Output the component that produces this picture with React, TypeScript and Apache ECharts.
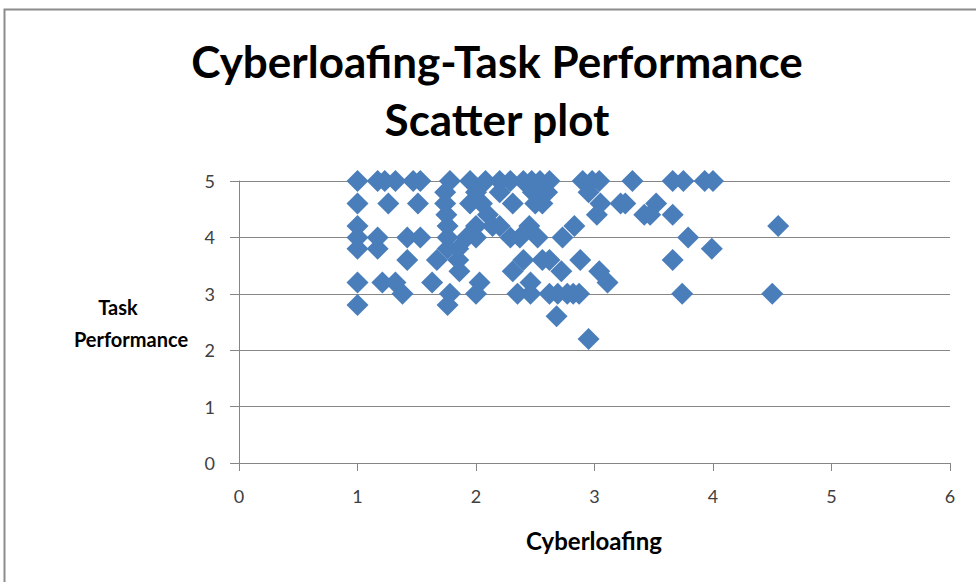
import React, { useEffect, useRef } from "react";
import * as echarts from "echarts";

const titleLines = ["Cyberloafing-Task Performance", "Scatter plot"];
const xAxisTitle = "Cyberloafing";
const yAxisTitle = ["Task", "Performance"];

// Cyberloafing (x) values grouped by Task Performance (y) rows
const y50 = [1.0, 1.17, 1.23, 1.32, 1.47, 1.53, 1.78, 1.95, 2.08, 2.2, 2.29, 2.4, 2.47, 2.54, 2.62, 2.9, 2.98, 3.04, 3.32, 3.66, 3.75, 3.93, 4.0];
const y48 = [1.74, 2.0, 2.2, 2.48, 2.6, 2.95];
const y46 = [1.0, 1.26, 1.51, 1.74, 1.95, 2.05, 2.31, 2.5, 2.56, 3.05, 3.22, 3.26, 3.52];
const y44 = [1.75, 2.1, 3.02, 3.42, 3.47, 3.66];
const y42 = [1.0, 1.76, 2.0, 2.14, 2.2, 2.45, 2.83, 4.55];
const y40 = [1.0, 1.17, 1.42, 1.53, 1.76, 1.92, 2.0, 2.29, 2.37, 2.52, 2.73, 3.79];
const y38 = [1.0, 1.17, 1.76, 1.85, 3.99];
const y36 = [1.42, 1.67, 1.85, 2.4, 2.56, 2.62, 2.88, 3.66];
const y34 = [1.86, 2.31, 2.72, 3.04];
const y32 = [1.0, 1.21, 1.32, 1.63, 2.03, 2.46, 3.11];
const y30 = [1.38, 1.78, 2.0, 2.35, 2.46, 2.62, 2.69, 2.77, 2.82, 2.87, 3.74, 4.5];
const y28 = [1.0, 1.76];
const y26 = [2.68];
const y22 = [2.95];

const rows: [number, number[]][] = [
  [5.0, y50], [4.8, y48], [4.6, y46], [4.4, y44], [4.2, y42], [4.0, y40],
  [3.8, y38], [3.6, y36], [3.4, y34], [3.2, y32], [3.0, y30], [2.8, y28],
  [2.6, y26], [2.2, y22],
];

export default function App() {
  const ref = useRef<HTMLDivElement>(null);
  useEffect(() => {
    if (!ref.current) return;
    const chart = echarts.init(ref.current, null, { renderer: "svg" });
    const data: number[][] = [];
    rows.forEach(([y, xs]) => xs.forEach((x) => data.push([x, y])));
    const font = "Lato, 'Open Sans', sans-serif";
    const txt = (text: string, x: number, y: number, size: number) => ({
      type: "text",
      x,
      y,
      style: {
        text,
        fontSize: size,
        fontWeight: "bold",
        fontFamily: font,
        fill: "#000000",
        textAlign: "center",
        textVerticalAlign: "middle",
      },
    });
    chart.setOption({
      animation: false,
      backgroundColor: "#ffffff",
      grid: { left: 239, top: 181, right: 26, bottom: 119, containLabel: false },
      xAxis: {
        type: "value",
        min: 0,
        max: 6,
        interval: 1,
        axisLine: { show: true, onZero: false, lineStyle: { color: "#868686", width: 1 } },
        axisTick: { show: true, length: 8, lineStyle: { color: "#868686" } },
        axisLabel: { margin: 24, fontSize: 18, color: "#404040", fontFamily: font },
        splitLine: { show: false },
      },
      yAxis: {
        type: "value",
        min: 0,
        max: 5,
        interval: 1,
        axisLine: { show: true, onZero: false, lineStyle: { color: "#868686", width: 1 } },
        axisTick: { show: true, length: 9, lineStyle: { color: "#868686" } },
        axisLabel: { margin: 24, fontSize: 18, color: "#404040", fontFamily: font },
        splitLine: { show: true, lineStyle: { color: "#868686", width: 1 } },
      },
      series: [
        {
          type: "scatter",
          symbol: "diamond",
          symbolSize: 22,
          data,
          itemStyle: { color: "#4a7ebb", opacity: 1 },
        },
      ],
      graphic: [
        {
          type: "rect",
          shape: { x: 4.5, y: 9.5, width: 1000, height: 600 },
          style: { fill: "none", stroke: "#8c8c8c", lineWidth: 2 },
          silent: true,
        },
        txt(titleLines[0], 497, 61, 44),
        txt(titleLines[1], 497, 119, 44),
        txt(yAxisTitle[0], 118, 307, 20),
        txt(yAxisTitle[1], 131, 339, 20),
        txt(xAxisTitle, 594, 540, 24),
      ],
    });
    return () => chart.dispose();
  }, []);
  return <div ref={ref} style={{ width: 976, height: 582, position: "absolute", left: 0, top: 0 }} />;
}
